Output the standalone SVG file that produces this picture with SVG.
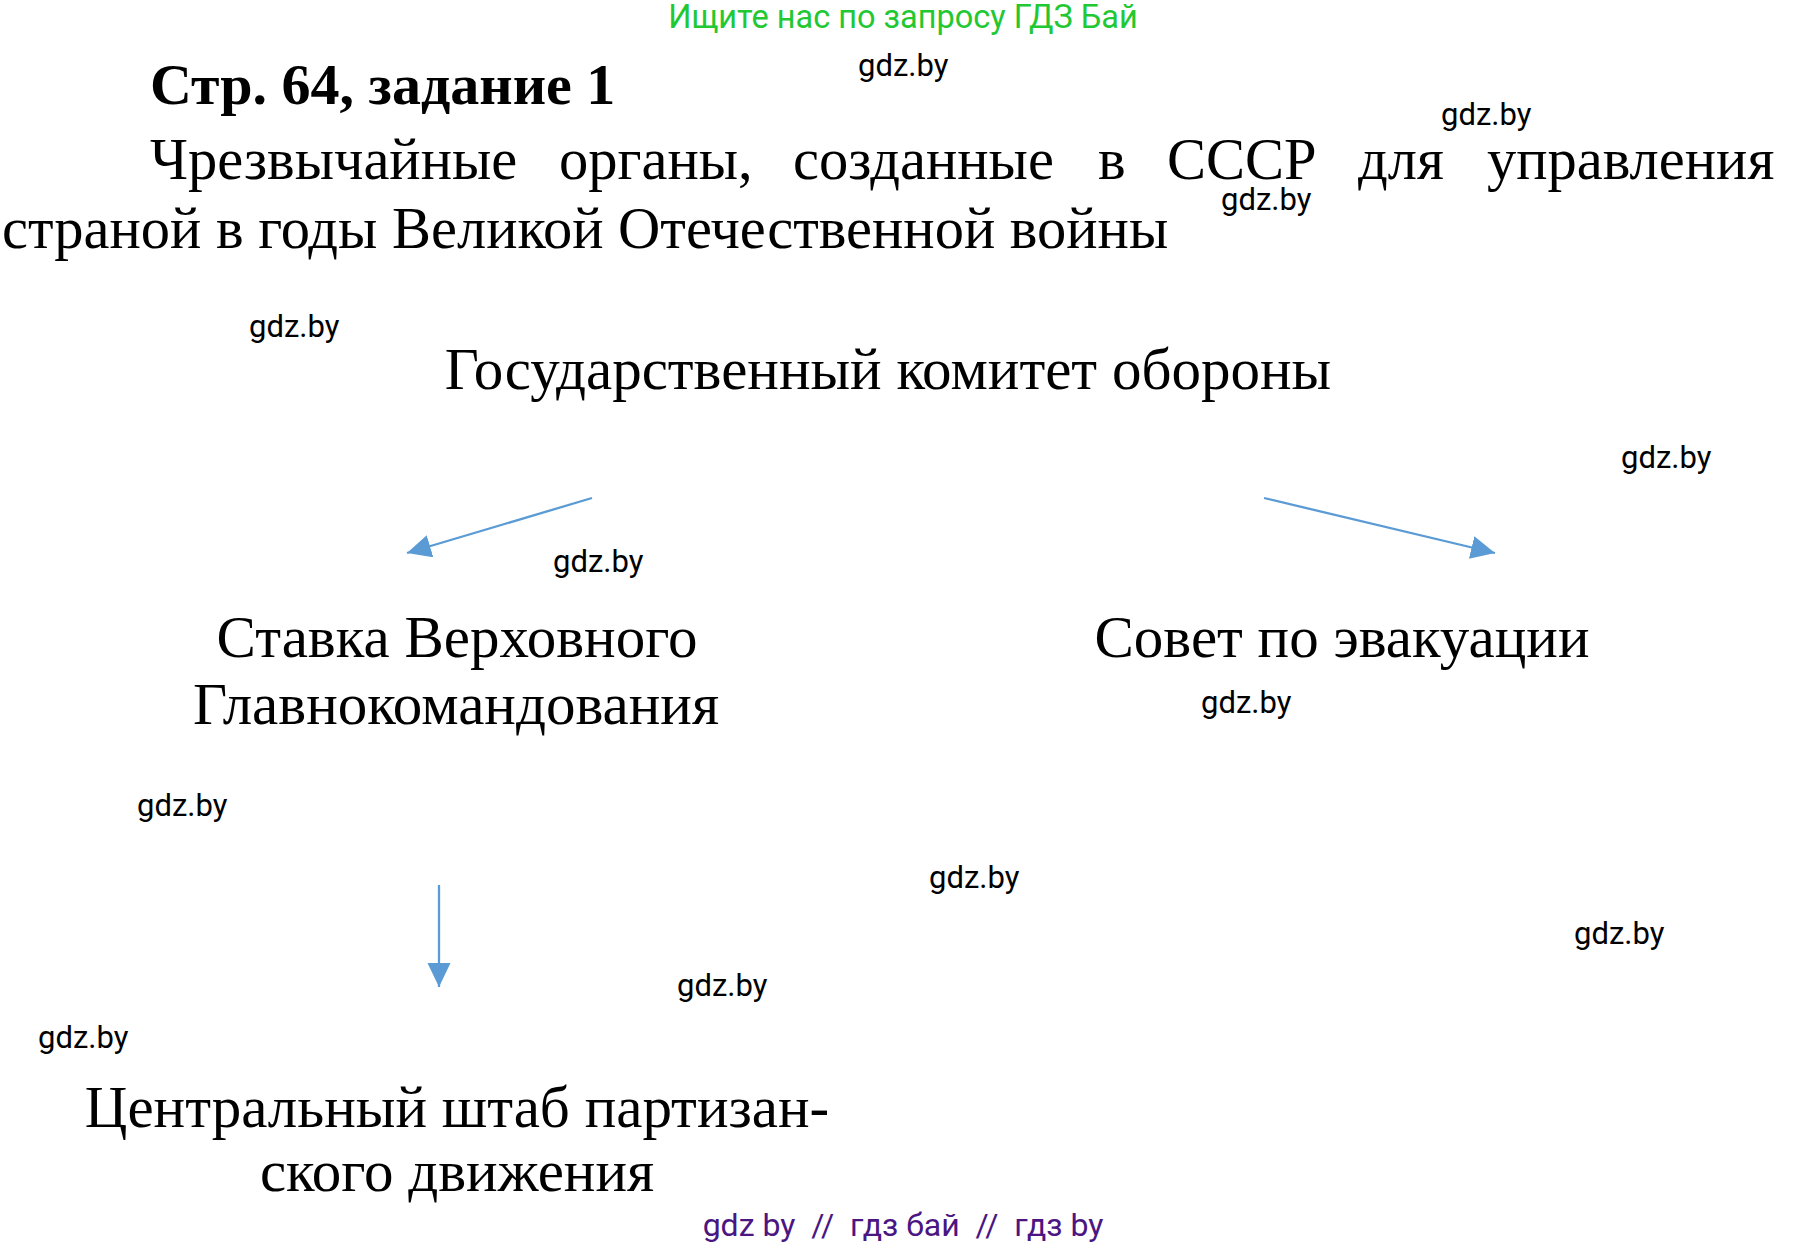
<svg xmlns="http://www.w3.org/2000/svg" width="1808" height="1246" viewBox="0 0 1808 1246">
<style>
.serif{font-family:"Liberation Serif","Times New Roman",serif;fill:#000}
.big{font-size:58.5px}
.node{font-size:59px;text-anchor:middle}
.wm{font-family:Roboto,"Liberation Sans",sans-serif;font-size:31px;fill:#000}
.conn{stroke:#5b9bd5;stroke-width:2.3;fill:none;marker-end:url(#ah)}
</style>
<defs>
<marker id="ah" markerUnits="userSpaceOnUse" markerWidth="25" markerHeight="24" refX="24" refY="11.5" orient="auto">
<path d="M0,0 L24,11.5 L0,23 Z" fill="#5b9bd5"/>
</marker>
</defs>
<rect width="1808" height="1246" fill="#fff"/>
<text x="903" y="28" text-anchor="middle" font-family="Roboto,'Liberation Sans',sans-serif" font-size="32.5" fill="#22c832">Ищите нас по запросу ГДЗ Бай</text>
<g id="heading">
<text class="serif" x="150" y="104" font-size="58" font-weight="bold">Стр. 64, задание 1</text>
<text class="serif big" y="179"><tspan x="150">Чрезвычайные</tspan><tspan x="559">органы,</tspan><tspan x="793">созданные</tspan><tspan x="1098">в</tspan><tspan x="1167">СССР</tspan><tspan x="1358">для</tspan><tspan x="1487">управления</tspan></text>
<text class="serif big" x="2" y="248">страной в годы Великой Отечественной войны</text>
</g>
<g id="node-gko"><text class="serif node" x="888" y="389">Государственный комитет обороны</text></g>
<g id="node-stavka"><text class="serif node" x="457" y="657">Ставка Верховного</text><text class="serif node" x="456" y="724" font-size="60">Главнокомандования</text></g>
<g id="node-sovet"><text class="serif node" x="1342" y="657">Совет по эвакуации</text></g>
<g id="node-tsps"><text class="serif node" x="457" y="1127" font-size="58.4">Центральный штаб партизан-</text><text class="serif node" x="457" y="1191" font-size="60">ского движения</text></g>
<g id="connectors">
<line class="conn" x1="592" y1="498" x2="407" y2="553"/>
<line class="conn" x1="1264" y1="498" x2="1495" y2="553"/>
<line class="conn" x1="439" y1="885" x2="439" y2="987"/>
</g>
<g id="watermarks">
<text class="wm" x="858" y="76">gdz.by</text>
<text class="wm" x="1441" y="125">gdz.by</text>
<text class="wm" x="1221" y="210">gdz.by</text>
<text class="wm" x="249" y="337">gdz.by</text>
<text class="wm" x="1621" y="468">gdz.by</text>
<text class="wm" x="553" y="572">gdz.by</text>
<text class="wm" x="1201" y="713">gdz.by</text>
<text class="wm" x="137" y="816">gdz.by</text>
<text class="wm" x="929" y="888">gdz.by</text>
<text class="wm" x="1574" y="944">gdz.by</text>
<text class="wm" x="677" y="996">gdz.by</text>
<text class="wm" x="38" y="1048">gdz.by</text>
</g>
<text x="903" y="1236" text-anchor="middle" font-family="Roboto,'Liberation Sans',sans-serif" font-size="32" fill="#4b1682" xml:space="preserve">gdz by  //  гдз бай  //  гдз by</text>
</svg>
